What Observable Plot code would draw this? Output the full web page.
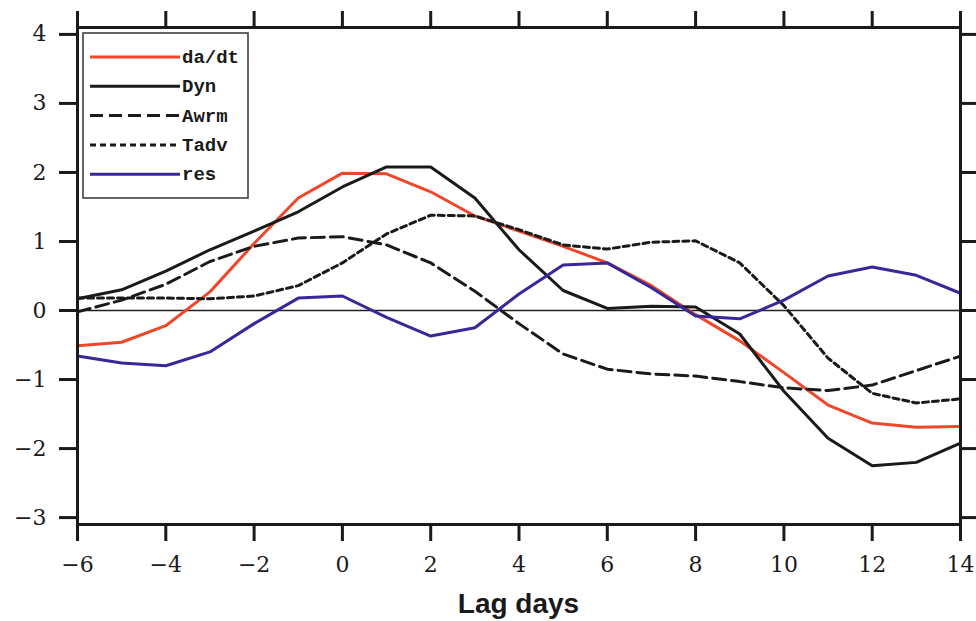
<!DOCTYPE html>
<html><head><meta charset="utf-8">
<script src="https://cdn.jsdelivr.net/npm/d3@7"></script>
<script src="https://cdn.jsdelivr.net/npm/@observablehq/plot@0.6"></script>
<style>body{margin:0;background:#fff}</style>
</head><body><div id="chart"></div>
<script>
const lagDays = [-6,-5,-4,-3,-2,-1,0,1,2,3,4,5,6,7,8,9,10,11,12,13,14];
const dadt = [-0.51,-0.46,-0.22,0.27,0.97,1.63,1.99,1.98,1.72,1.37,1.15,0.93,0.69,0.36,-0.06,-0.44,-0.90,-1.37,-1.63,-1.69,-1.68];
const dyn  = [0.17,0.30,0.57,0.88,1.15,1.43,1.79,2.08,2.08,1.63,0.88,0.29,0.03,0.06,0.05,-0.34,-1.17,-1.85,-2.25,-2.20,-1.92];
const awrm = [-0.02,0.15,0.38,0.71,0.93,1.05,1.07,0.95,0.69,0.28,-0.19,-0.63,-0.85,-0.92,-0.95,-1.03,-1.12,-1.16,-1.08,-0.87,-0.66];
const tadv = [0.18,0.18,0.18,0.17,0.21,0.36,0.69,1.11,1.38,1.37,1.17,0.95,0.89,0.99,1.01,0.69,0.07,-0.69,-1.20,-1.34,-1.28];
const res  = [-0.66,-0.76,-0.80,-0.60,-0.19,0.18,0.21,-0.10,-0.37,-0.25,0.24,0.66,0.69,0.33,-0.08,-0.12,0.15,0.50,0.63,0.51,0.25];
const seriesNames = ["da/dt","Dyn","Awrm","Tadv","res"];
const seriesColors = ["#f0462a","#1a1a1a","#1a1a1a","#1a1a1a","#36289a"];
const seriesDash = [null,null,"13 6","6 4",null];
const xTicks = [-6,-4,-2,0,2,4,6,8,10,12,14];
const yTicks = [-3,-2,-1,0,1,2,3,4];
const xLabel = "Lag days";

const fmt = d => (d < 0 ? "\u2212" : "") + Math.abs(d);
const allSeries = [dadt,dyn,awrm,tadv,res];
const marks = [Plot.ruleY([0], {stroke:"#222", strokeWidth:1.5})];
allSeries.forEach((vals,i) => {
  const data = lagDays.map((d,j) => ({lag:d, v:vals[j]}));
  marks.push(Plot.line(data, {x:"lag", y:"v", stroke:seriesColors[i], strokeWidth:3,
    strokeDasharray: seriesDash[i] || undefined, strokeLinejoin:"miter"}));
});
marks.push(Plot.frame({stroke:"#1a1a1a", strokeWidth:3}));
marks.push(Plot.axisY(yTicks, {anchor:"left", tickSize:18, tickPadding:13, strokeWidth:3, fontSize:22, tickFormat:fmt, label:null, stroke:"#1a1a1a", fill:"#1a1a1a"}));
marks.push(Plot.axisY(yTicks, {anchor:"right", tickSize:18, strokeWidth:3, tickFormat:() => "", label:null, stroke:"#1a1a1a"}));
marks.push(Plot.axisX(xTicks, {anchor:"bottom", tickSize:17, tickPadding:15, strokeWidth:3, fontSize:22, tickFormat:fmt, label:null, stroke:"#1a1a1a", fill:"#1a1a1a"}));
marks.push(Plot.axisX(xTicks, {anchor:"top", tickSize:17, strokeWidth:3, tickFormat:() => "", label:null, stroke:"#1a1a1a"}));

const plot = Plot.plot({
  width:976, height:621,
  marginLeft:77, marginRight:16, marginTop:27, marginBottom:97,
  x:{domain:[-6,14]},
  y:{domain:[-3.1,4.1]},
  style:{fontFamily:"'DejaVu Serif', serif", fontSize:"22px", color:"#1a1a1a", background:"#fff"},
  marks
});
document.getElementById("chart").appendChild(plot);

const svg = d3.select(plot);
const xr = plot.scale("x").range;
svg.append("text")
  .attr("x", (xr[0]+xr[1])/2).attr("y", 613)
  .attr("text-anchor","middle")
  .attr("font-family","'Liberation Sans', Arial, sans-serif")
  .attr("font-weight","bold").attr("font-size",28).attr("fill","#1a1a1a")
  .text(xLabel);

// legend
const lg = svg.append("g");
lg.append("rect").attr("x",83).attr("y",33).attr("width",165).attr("height",165)
  .attr("fill","#fff").attr("stroke","#333").attr("stroke-width",1.5);
seriesNames.forEach((name,i) => {
  const yy = 57 + i*29.3;
  lg.append("line").attr("x1",90).attr("x2",180).attr("y1",yy).attr("y2",yy)
    .attr("stroke",seriesColors[i]).attr("stroke-width",3)
    .attr("stroke-dasharray", seriesDash[i] || null);
  lg.append("text").attr("x",182).attr("y",yy+6)
    .attr("text-anchor","start")
    .attr("font-family","'Liberation Mono', 'DejaVu Sans Mono', monospace")
    .attr("font-weight","bold").attr("font-size",19).attr("fill","#1a1a1a")
    .text(name);
});
</script>
</body></html>
